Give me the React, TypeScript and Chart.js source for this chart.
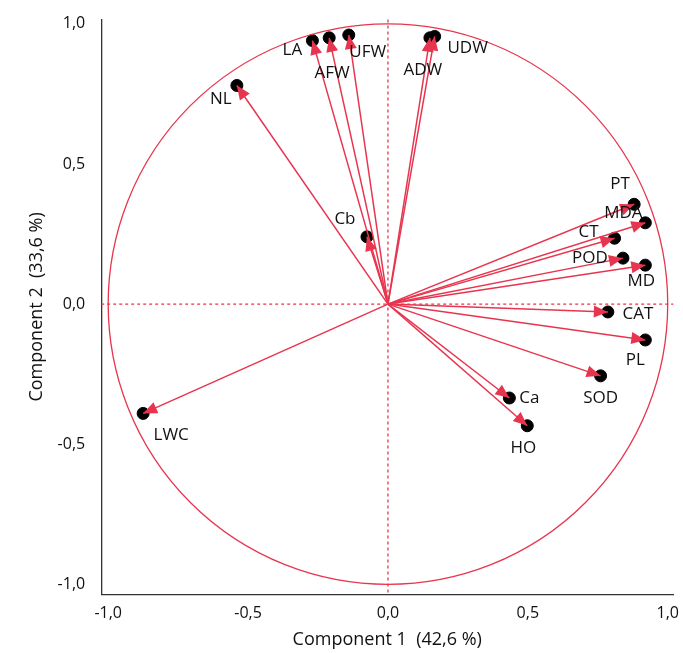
import { useEffect, useRef } from 'react';
import { Chart, registerables } from 'chart.js';

Chart.register(...registerables);

const names = ['NL', 'LA', 'AFW', 'UFW', 'ADW', 'UDW', 'Cb', 'PT', 'MDA', 'CT', 'POD', 'MD', 'CAT', 'PL', 'SOD', 'Ca', 'HO', 'LWC'];
const comp1 = [-0.54, -0.27, -0.21, -0.14, 0.15, 0.167, -0.075, 0.88, 0.92, 0.81, 0.84, 0.92, 0.786, 0.92, 0.76, 0.434, 0.498, -0.875];
const comp2 = [0.78, 0.94, 0.95, 0.96, 0.95, 0.955, 0.24, 0.356, 0.29, 0.235, 0.164, 0.139, -0.028, -0.128, -0.256, -0.335, -0.434, -0.39];
// label offsets in pixels (dx, dy) from the point
const labelDx = [-16, -20, 3, 19, -7, 33, -22, -14, -22, -26, -33, -4, 30, -10, 0, 20, -4, 28];
const labelDy = [14, 10, 35, 17, 32, 12, -18, -20, -10, -6, 0, 16, 2, 20, 22, 0, 22, 22];
const ticks = [-1, -0.5, 0, 0.5, 1];

const red = '#e8354f';
const font = "'Open Sans', 'Noto Sans', sans-serif";

const biplot = {
  id: 'biplot',
  afterDatasetsDraw(chart: any) {
    const { ctx, scales: { x, y }, chartArea } = chart;
    const ox = x.getPixelForValue(0), oy = y.getPixelForValue(0);
    ctx.save();
    ctx.strokeStyle = red;
    ctx.lineWidth = 1.3;
    ctx.setLineDash([3, 3]);
    ctx.beginPath();
    ctx.moveTo(chartArea.left, oy); ctx.lineTo(chartArea.right, oy);
    ctx.moveTo(ox, chartArea.top); ctx.lineTo(ox, chartArea.bottom);
    ctx.stroke();
    ctx.setLineDash([]);
    const rx = x.getPixelForValue(1) - ox;
    const ry = oy - y.getPixelForValue(1);
    ctx.beginPath();
    ctx.ellipse(ox, oy, rx, ry, 0, 0, Math.PI * 2);
    ctx.stroke();
    ctx.lineWidth = 1.5;
    ctx.fillStyle = red;
    names.forEach((n, i) => {
      const px = x.getPixelForValue(comp1[i]), py = y.getPixelForValue(comp2[i]);
      const a = Math.atan2(py - oy, px - ox);
      ctx.beginPath(); ctx.moveTo(ox, oy); ctx.lineTo(px, py); ctx.stroke();
      const L = 14, W = 6;
      ctx.beginPath();
      ctx.moveTo(px, py);
      ctx.lineTo(px - L * Math.cos(a) + W * Math.sin(a), py - L * Math.sin(a) - W * Math.cos(a));
      ctx.lineTo(px - L * Math.cos(a) - W * Math.sin(a), py - L * Math.sin(a) + W * Math.cos(a));
      ctx.closePath(); ctx.fill();
    });
    ctx.fillStyle = '#111';
    ctx.font = `17px ${font}`;
    ctx.textAlign = 'center';
    ctx.textBaseline = 'middle';
    names.forEach((n, i) => {
      const px = x.getPixelForValue(comp1[i]), py = y.getPixelForValue(comp2[i]);
      ctx.fillText(n, px + labelDx[i], py + labelDy[i]);
    });
    ctx.restore();
  },
};

export default function App() {
  const ref = useRef<HTMLCanvasElement>(null);
  useEffect(() => {
    document.body.style.margin = '0';
    if (!ref.current) return;
    const fmt = (v: any) => Number(v).toFixed(1).replace('.', ',');
    const axis = (title: string, min: number, max: number) => ({
      type: 'linear' as const,
      min,
      max,
      afterBuildTicks: (s: any) => { s.ticks = ticks.map(v => ({ value: v })); },
      grid: { display: false, drawTicks: true, tickLength: 6, tickColor: '#333' },
      border: { color: '#333', width: 1.3 },
      ticks: { color: '#111', padding: 4, font: { family: font, size: 16 }, callback: fmt },
      title: { display: true, text: title, color: '#111', padding: { top: 2, bottom: 0 }, font: { family: font, size: 18 } },
    });
    const chart = new Chart(ref.current, {
      type: 'scatter',
      data: {
        datasets: [{
          data: comp1.map((v, i) => ({ x: v, y: comp2[i] })),
          backgroundColor: '#000',
          borderColor: '#000',
          pointRadius: 6,
        }],
      },
      options: {
        animation: false,
        responsive: false,
        layout: { padding: { left: 24, right: 0, top: 0, bottom: 2 } },
        plugins: { legend: { display: false }, tooltip: { enabled: false } },
        scales: {
          x: axis('Component 1  (42,6 %)', -1.025, 1.02),
          y: { ...axis('Component 2  (33,6 %)', -1.035, 1.015), ticks: { color: '#111', padding: 10, font: { family: font, size: 16 }, callback: fmt } },
        },
      },
      plugins: [biplot],
    });
    return () => chart.destroy();
  }, []);
  return <canvas ref={ref} width={683} height={653} style={{ display: 'block' }} />;
}
